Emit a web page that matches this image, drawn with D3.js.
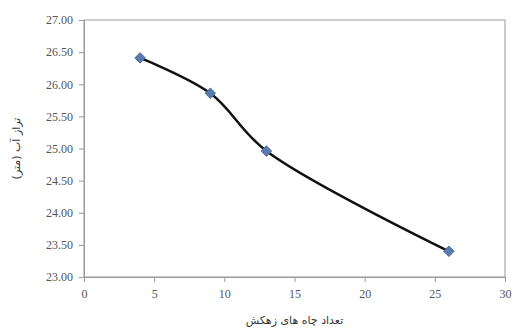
<!DOCTYPE html>
<html><head><meta charset="utf-8">
<script src="https://cdn.jsdelivr.net/npm/d3@7"></script>
<style>body{margin:0;background:#fff}svg{display:block}</style>
</head><body>
<svg id="c" width="521" height="334"></svg>
<script>
const wells = [4, 9, 13, 26];
const levels = [26.41, 25.86, 24.96, 23.40];
const xTicks = [0, 5, 10, 15, 20, 25, 30];
const yTicks = [23, 23.5, 24, 24.5, 25, 25.5, 26, 26.5, 27];
const xTitle = "تعداد چاه های زهکش";
const yTitle = "تراز آب (متر)";

const svg = d3.select("#c");
const m = {l: 84, r: 505, t: 20, b: 277};
const x = d3.scaleLinear().domain([0, 30]).range([m.l, m.r]);
const y = d3.scaleLinear().domain([23, 27]).range([m.b, m.t]);

svg.append("rect").attr("x", m.l).attr("y", m.t).attr("width", m.r - m.l).attr("height", m.b - m.t)
  .attr("fill", "#fff").attr("stroke", "#999").attr("stroke-width", 1);

const ya = svg.append("g").attr("transform", `translate(${m.l},0)`)
  .call(d3.axisLeft(y).tickValues(yTicks).tickFormat(d3.format(".2f")).tickSize(5).tickPadding(6));
const xa = svg.append("g").attr("transform", `translate(0,${m.b})`)
  .call(d3.axisBottom(x).tickValues(xTicks).tickSize(5).tickPadding(7));
[ya, xa].forEach(a => {
  a.attr("font-family", "serif").attr("font-size", 12);
  a.select(".domain").attr("stroke", "#999");
  a.selectAll(".tick line").attr("stroke", "#999");
  a.selectAll("text").attr("fill", "#555");
});

const pts = wells.map((w, i) => [x(w), y(levels[i])]);
svg.append("path").attr("d", d3.line().curve(d3.curveCatmullRom.alpha(0.5))(pts))
  .attr("fill", "none").attr("stroke", "#111").attr("stroke-width", 2.5);

svg.selectAll(".mk").data(wells).enter().append("path")
  .attr("transform", (d, i) => `translate(${x(d)},${y(levels[i])})`)
  .attr("d", d3.symbol(d3.symbolDiamond2, 70)())
  .attr("fill", "#5a7bb0").attr("stroke", "#4a6a9c").attr("stroke-width", 1);

svg.append("text").attr("x", (m.l + m.r) / 2).attr("y", 324).attr("text-anchor", "middle")
  .attr("fill", "#333").attr("font-family", "DejaVu Sans").attr("font-size", 11)
  .attr("direction", "rtl").text(xTitle);
svg.append("text").attr("transform", `translate(20,${(m.t + m.b) / 2}) rotate(-90)`).attr("text-anchor", "middle")
  .attr("fill", "#333").attr("font-family", "DejaVu Sans").attr("font-size", 11)
  .attr("direction", "rtl").text(yTitle);
</script>
</body></html>
